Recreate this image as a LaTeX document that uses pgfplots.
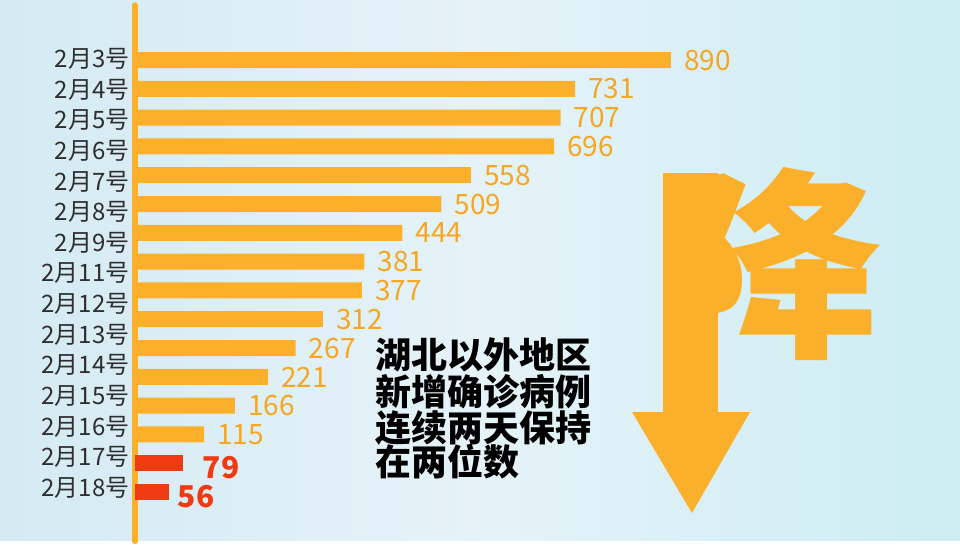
\documentclass[border=0pt]{standalone}
\usepackage{fontspec}
\usepackage{pgfplots}
\pgfplotsset{compat=1.18}
\setmainfont{Noto Sans CJK SC}
\IfFontExistsTF{Noto Sans CJK SC Black}{\newfontfamily\cjkblack{Noto Sans CJK SC Black}}{\newfontfamily\cjkblack{Noto Sans CJK SC}[FakeBold=3]}
\definecolor{barorange}{HTML}{FBB02B}
\definecolor{txtorange}{HTML}{F6A623}
\definecolor{barred}{HTML}{F03A12}
\definecolor{bg1}{HTML}{D5EAF2}
\definecolor{bg2}{HTML}{E5F3F8}
\definecolor{bg3}{HTML}{CCEDF3}
\begin{document}
\begin{tikzpicture}[x=1pt,y=1pt]
\fill[left color=bg1, right color=bg3, middle color=bg2] (0,0) rectangle (960,540);
\begin{axis}[
  at={(135pt,534.7pt)}, anchor=north west,
  scale only axis, width=825pt, height=535.7pt,
  xmin=0, xmax=1370.4, ymin=-1.9, ymax=16.7, y dir=reverse,
  axis x line=none, axis y line*=left,
  y axis line style={barorange, line width=6pt, line cap=round},
  ytick={-0.035,1.028,2.091,3.154,4.217,5.281,6.344,7.407,8.470,9.533,10.596,11.659,12.722,13.785,14.848},
  yticklabels={2月3号,2月4号,2月5号,2月6号,2月7号,2月8号,2月9号,2月11号,2月12号,2月13号,2月14号,2月15号,2月16号,2月17号,2月18号},
  tick style={draw=none},
  yticklabel style={font=\fontsize{24}{24}\selectfont, text=black!82, inner sep=0pt, xshift=-1pt},
  xbar, bar width=16pt, bar shift=0pt,
  /pgf/number format/assume math mode=true,
  nodes near coords,
  clip=false,
]
\addplot[draw=none, fill=barorange,
  every node near coord/.append style={anchor=west, inner sep=0pt, xshift=13pt, text=txtorange, font=\fontsize{28}{28}\selectfont}]
  coordinates {(890,0) (731,1) (707,2) (696,3) (558,4) (509,5) (444,6) (381,7) (377,8) (312,9) (267,10) (221,11) (166,12) (115,13)};
\addplot[draw=none, fill=barred,
  every node near coord/.append style={anchor=west, inner sep=0pt, xshift=20pt, yshift=-4pt, text=barred, font=\bfseries\fontsize{30}{30}\selectfont}]
  coordinates {(79,14)};
\addplot[draw=none, fill=barred,
  every node near coord/.append style={anchor=west, inner sep=0pt, xshift=9pt, yshift=-5pt, text=barred, font=\bfseries\fontsize{30}{30}\selectfont}]
  coordinates {(56,15)};
\end{axis}
% big character with arrow
\node[anchor=base west, inner sep=0pt, yscale=0.895, text=barorange, font=\cjkblack\fontsize{228}{228}\selectfont] at (654,199) {降};
\fill[barorange] (663,367) rectangle (718,128);
\fill[barorange] (632,128) -- (750,128) -- (692,27) -- cycle;
% text block
\begin{scope}[every node/.style={anchor=west, inner sep=0pt, font=\cjkblack\fontsize{36}{36}\selectfont, text=black}]
\node at (375,185) {湖北以外地区};
\node at (375,148) {新增确诊病例};
\node at (375,112) {连续两天保持};
\node at (375,78) {在两位数};
\end{scope}
\end{tikzpicture}
\end{document}
